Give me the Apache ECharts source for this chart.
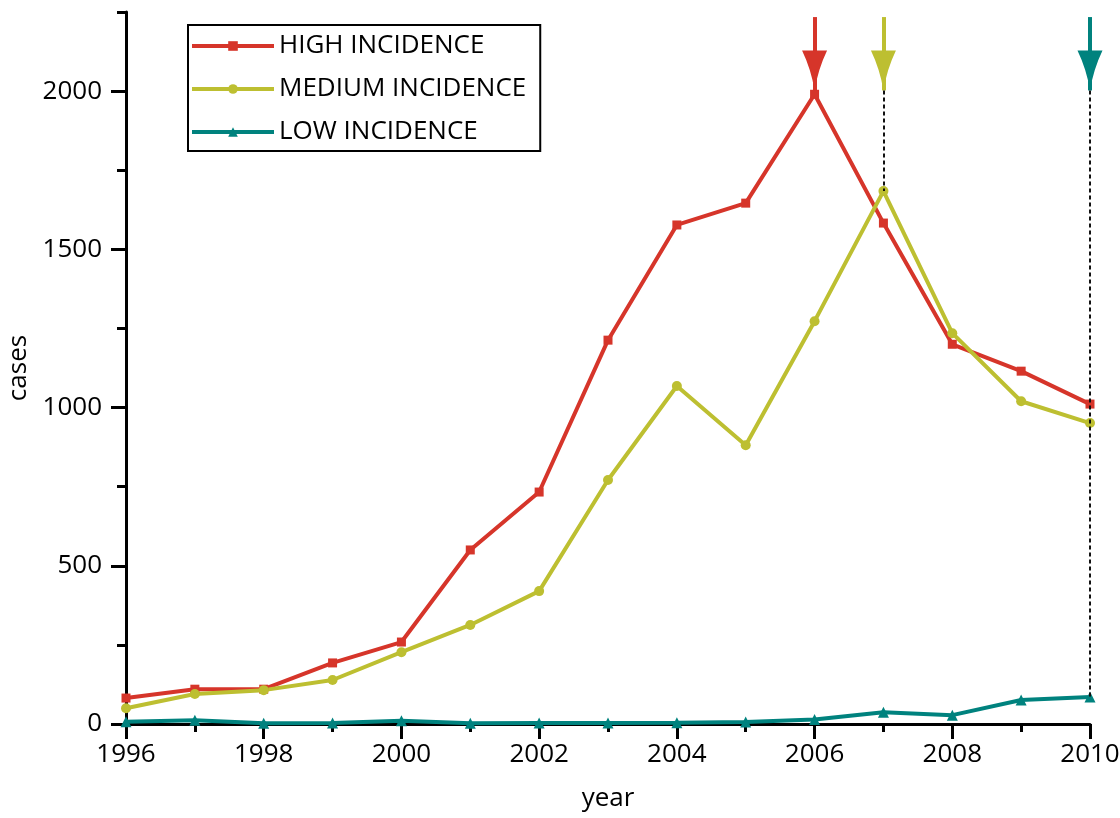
<!DOCTYPE html>
<html>
<head>
<meta charset="utf-8">
<script src="https://cdn.jsdelivr.net/npm/echarts@6/dist/echarts.min.js"></script>
<style>html,body{margin:0;padding:0;background:#fff}#main{width:1120px;height:818px}</style>
</head>
<body>
<div id="main"></div>
<script type="text/javascript">
    // data
    var years = [1996, 1997, 1998, 1999, 2000, 2001, 2002, 2003, 2004, 2005, 2006, 2007, 2008, 2009, 2010];
    var high = [82, 110, 110, 193, 259, 550, 733, 1213, 1577, 1646, 1990, 1583, 1200, 1115, 1011];
    var medium = [50, 95, 107, 139, 227, 313, 420, 771, 1068, 881, 1273, 1684, 1235, 1020, 951];
    var low = [7, 12, 2, 3, 10, 2, 3, 3, 4, 6, 14, 37, 28, 76, 85];
    var seriesNames = ['HIGH INCIDENCE', 'MEDIUM INCIDENCE', 'LOW INCIDENCE'];
    var colors = ['#d6352a', '#bdbf31', '#00827e'];
    var yTicks = [0, 500, 1000, 1500, 2000];
    var arrowYears = [2006, 2007, 2010];
    var arrowTop = 2234;
    var arrowTip = 2002;

    var font = 'Open Sans';
    // arrow head, tip at the top (markLine turns it to point along the line)
    var arrowPath = 'path://M13,0 Q16.5,21 26,40 L0,40 Q9.5,21 13,0 Z';

    function pairs(vals) {
        return years.map(function (y, i) { return [y, vals[i]]; });
    }
    function arrow(year, color) {
        return [
            { coord: [year, arrowTop], lineStyle: { color: color, width: 4, type: 'solid' } },
            { coord: [year, arrowTip], symbol: arrowPath, symbolSize: [25, 40], symbolOffset: [0, 20], symbolKeepAspect: false }
        ];
    }
    function dotted(year, value) {
        return [
            { coord: [year, arrowTip], lineStyle: { color: '#111', width: 2, type: [4, 3] } },
            { coord: [year, value], symbol: 'none' }
        ];
    }
    var idx2007 = years.indexOf(2007);
    var idx2010 = years.indexOf(2010);

    var myChart = echarts.init(document.getElementById('main'));
    var option = {
        animation: false,
        grid: { left: 126, right: 30, top: 12, bottom: 94, outerBoundsMode: 'none' },
        legend: {
            data: seriesNames,
            orient: 'vertical',
            left: 188,
            top: 25,
            itemWidth: 82,
            itemHeight: 12,
            itemGap: 17,
            padding: [8, 14, 6, 2],
            borderColor: '#000',
            borderWidth: 2,
            backgroundColor: '#fff',
            lineStyle: { width: 4 },
            textStyle: { fontSize: 26, color: '#000', fontFamily: font }
        },
        xAxis: {
            type: 'value',
            min: 1996,
            max: 2010,
            interval: 2,
            name: 'year',
            nameLocation: 'middle',
            nameGap: 62,
            nameTextStyle: { fontSize: 26, color: '#000', fontFamily: font },
            axisLine: { show: true, lineStyle: { color: '#000', width: 3 } },
            axisTick: { show: true, length: 15, lineStyle: { color: '#000', width: 3 } },
            minorTick: { show: true, splitNumber: 2, length: 8, lineStyle: { color: '#000', width: 3 } },
            axisLabel: { fontSize: 26, color: '#000', fontFamily: font, margin: 18, formatter: function (v) { return String(v); } },
            splitLine: { show: false }
        },
        yAxis: [
            {
                type: 'value',
                min: 0,
                max: 2250,
                interval: 250,
                position: 'left',
                name: 'cases',
                nameLocation: 'middle',
                nameGap: 86,
                nameTextStyle: { fontSize: 26, color: '#000', fontFamily: font },
                axisLine: { show: true, lineStyle: { color: '#000', width: 3 } },
                axisTick: { show: true, length: 9, lineStyle: { color: '#000', width: 3 } },
                axisLabel: {
                    fontSize: 26, color: '#000', fontFamily: font, margin: 24,
                    formatter: function (v) { return yTicks.indexOf(v) >= 0 ? String(v) : ''; }
                },
                splitLine: { show: false }
            },
            {
                type: 'value',
                min: 0,
                max: 2250,
                interval: 250,
                position: 'left',
                axisLine: { show: false },
                axisTick: { show: true, length: 15, customValues: yTicks, lineStyle: { color: '#000', width: 3 } },
                axisLabel: { show: false },
                splitLine: { show: false }
            }
        ],
        series: [
            {
                name: seriesNames[0],
                type: 'line',
                data: pairs(high),
                symbol: 'rect',
                symbolSize: 9,
                color: colors[0],
                lineStyle: { width: 4 },
                markLine: {
                    silent: true, symbol: ['none', 'none'], label: { show: false },
                    data: [arrow(arrowYears[0], colors[0])]
                }
            },
            {
                name: seriesNames[1],
                type: 'line',
                data: pairs(medium),
                symbol: 'circle',
                symbolSize: 10,
                color: colors[1],
                lineStyle: { width: 4 },
                markLine: {
                    silent: true, symbol: ['none', 'none'], label: { show: false },
                    data: [arrow(arrowYears[1], colors[1]), dotted(2007, medium[idx2007])]
                }
            },
            {
                name: seriesNames[2],
                type: 'line',
                data: pairs(low),
                symbol: 'triangle',
                symbolSize: 11,
                color: colors[2],
                lineStyle: { width: 4 },
                markLine: {
                    silent: true, symbol: ['none', 'none'], label: { show: false },
                    data: [arrow(arrowYears[2], colors[2]), dotted(2010, low[idx2010])]
                }
            }
        ]
    };
    myChart.setOption(option);
</script>
</body>
</html>
